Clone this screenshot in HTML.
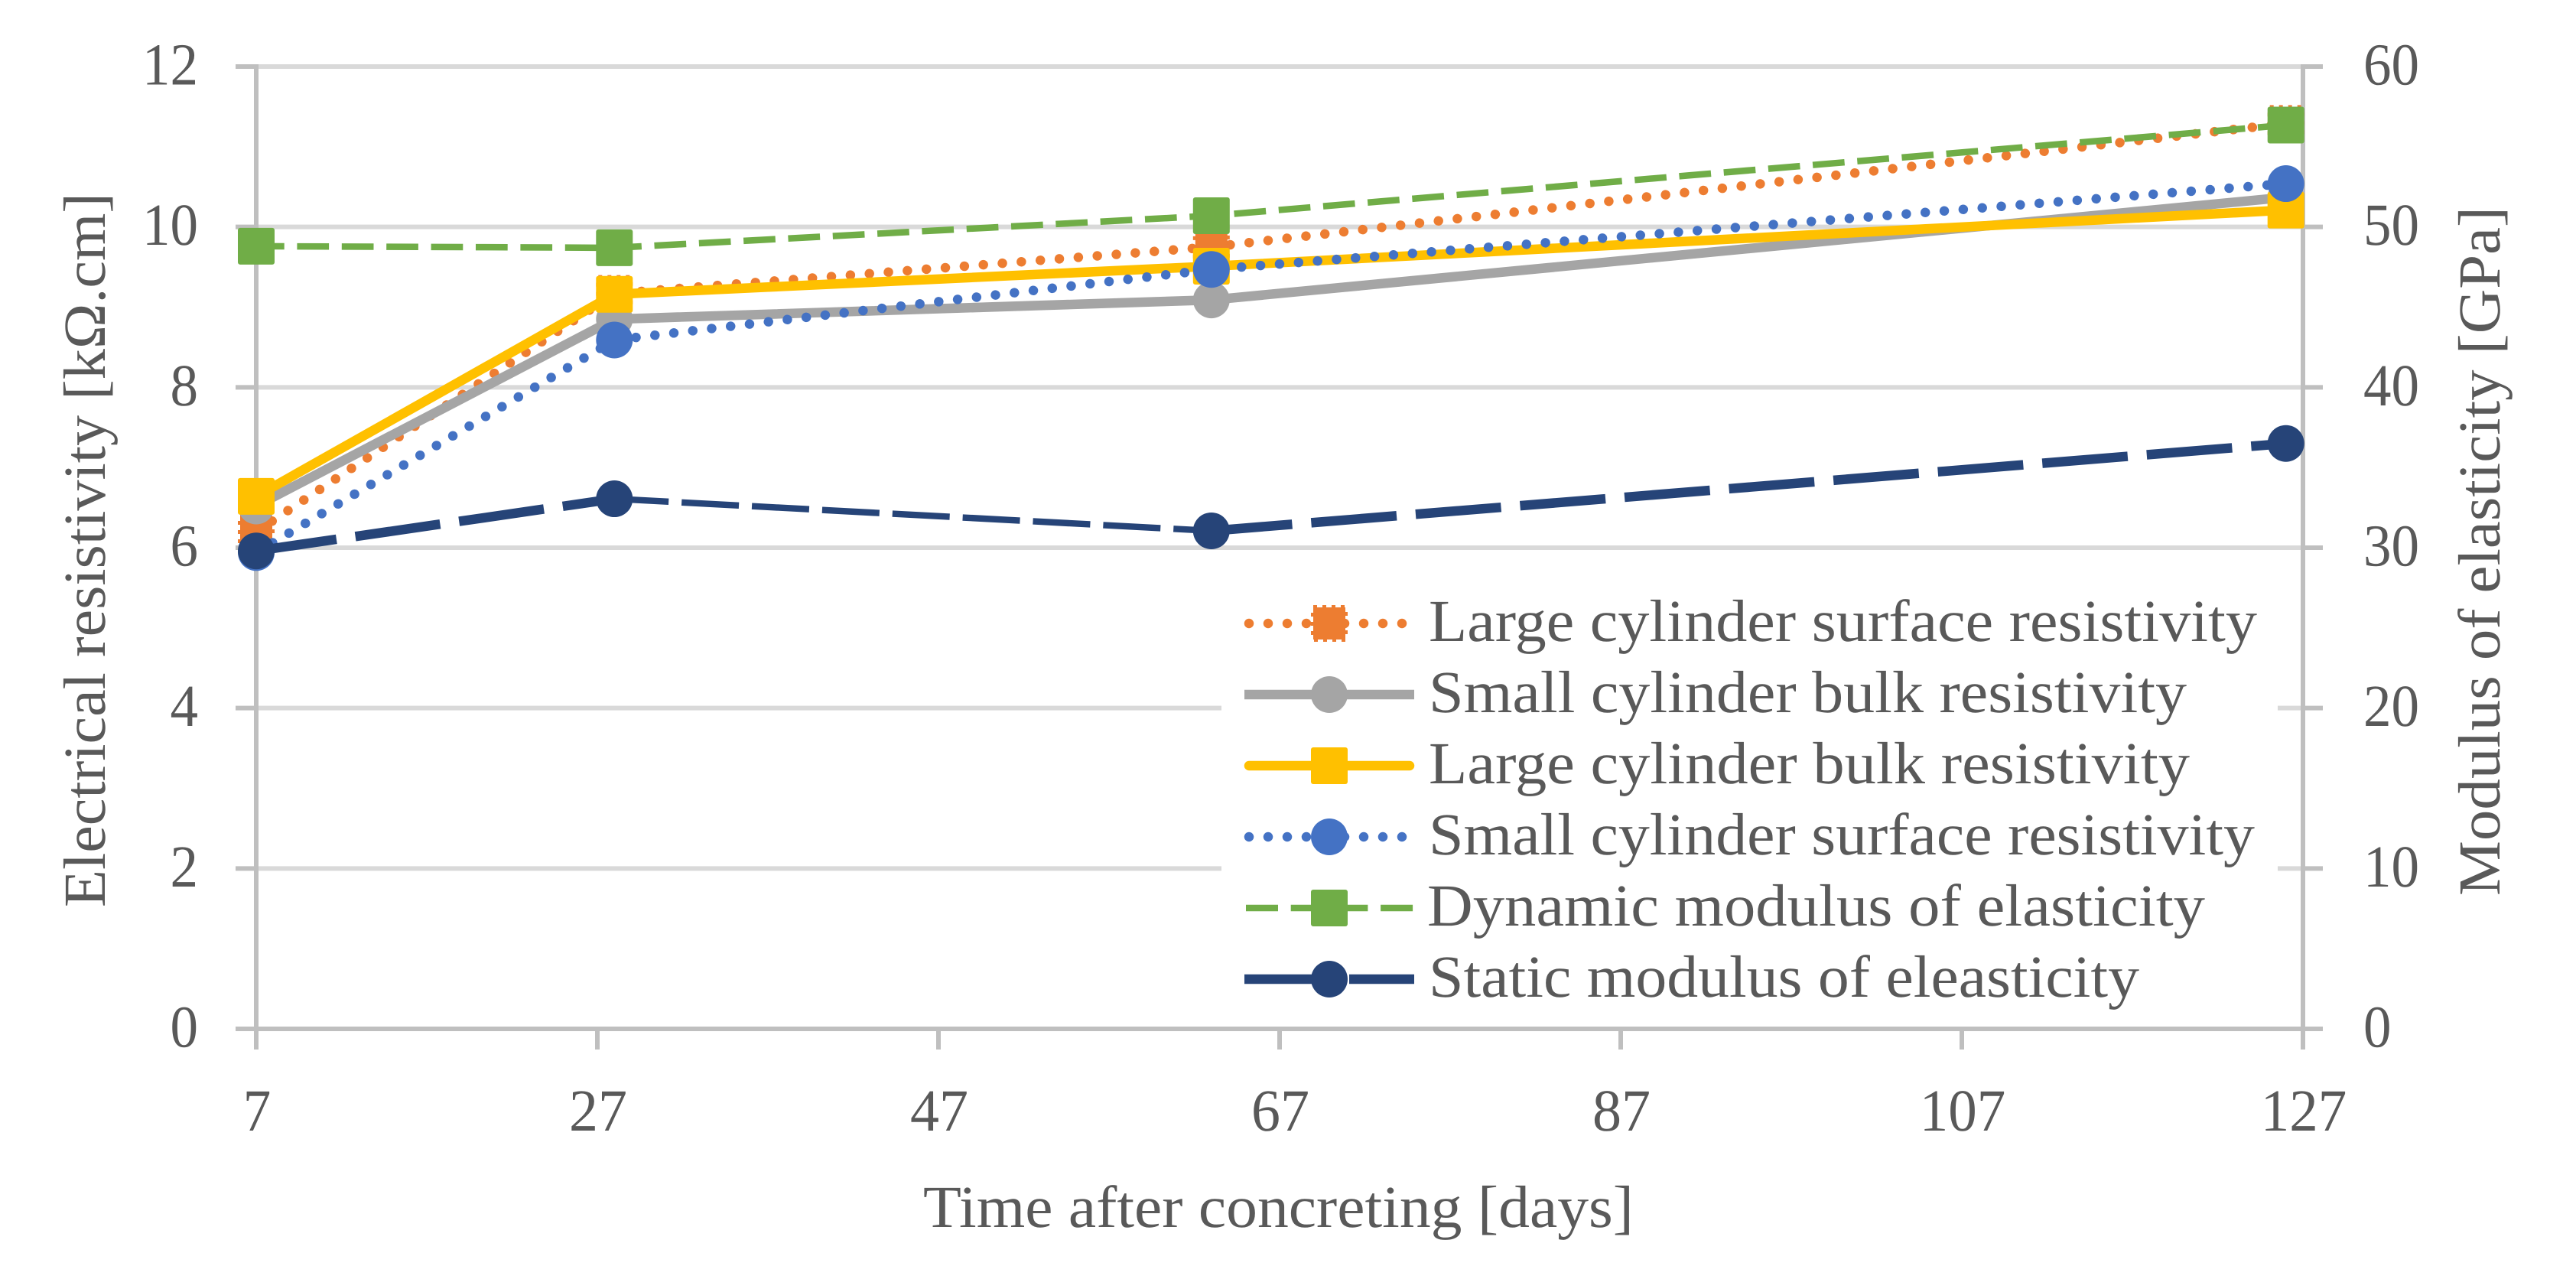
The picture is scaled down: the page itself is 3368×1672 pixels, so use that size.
<!DOCTYPE html>
<html lang="en">
<head>
<meta charset="utf-8">
<title>Electrical resistivity and modulus of elasticity over time</title>
<style>
html,body{margin:0;padding:0;background:#fff;width:3368px;height:1672px;overflow:hidden}
svg{display:block}
text{font-family:"Liberation Serif",serif;fill:#595959;text-rendering:geometricPrecision}
</style>
</head>
<body>
<svg id="chart" xmlns="http://www.w3.org/2000/svg" width="3368" height="1672" viewBox="0 0 3368 1672">
  <rect x="0" y="0" width="3368" height="1672" fill="#fff"/>
  <g id="grid"></g>
  <g id="axes"></g>
  <g id="tick-labels"></g>
  <g id="series"></g>

  <text x="1207" y="1604" font-size="78" textLength="929" lengthAdjust="spacingAndGlyphs">Time after concreting [days]</text>
  <text transform="translate(137 1186) rotate(-90)" font-size="78" textLength="934" lengthAdjust="spacingAndGlyphs">Electrical resistivity [kΩ.cm]</text>
  <text transform="translate(3268 1171) rotate(-90)" font-size="78" textLength="901" lengthAdjust="spacingAndGlyphs">Modulus of elasticity [GPa]</text>

  <g>
    <rect x="1597" y="750" width="1381" height="585" fill="#fff"/>

    <g>
      <path d="M1633 815H1843" fill="none" stroke="#ED7D31" stroke-width="12.5" stroke-linecap="round" stroke-dasharray="0.01 24.99"/>
      <rect x="1717" y="794" width="42" height="42" fill="#ED7D31" stroke="#ED7D31" stroke-width="6" stroke-dasharray="5 7"/>
      <text x="1868" y="838" font-size="78" textLength="1083" lengthAdjust="spacingAndGlyphs">Large cylinder surface resistivity</text>
    </g>
    <g>
      <path d="M1627 908H1849" fill="none" stroke="#A5A5A5" stroke-width="12.5"/>
      <circle cx="1738" cy="908" r="24" fill="#A5A5A5"/>
      <text x="1868" y="931" font-size="78" textLength="991" lengthAdjust="spacingAndGlyphs">Small cylinder bulk resistivity</text>
    </g>
    <g>
      <path d="M1633 1001H1843" fill="none" stroke="#FFC000" stroke-width="12.5" stroke-linecap="round"/>
      <rect x="1714" y="977" width="48" height="48" rx="3" fill="#FFC000"/>
      <text x="1868" y="1024" font-size="78" textLength="995" lengthAdjust="spacingAndGlyphs">Large cylinder bulk resistivity</text>
    </g>
    <g>
      <path d="M1633 1094H1843" fill="none" stroke="#4472C4" stroke-width="12.5" stroke-linecap="round" stroke-dasharray="0.01 24.99"/>
      <circle cx="1738" cy="1094" r="24" fill="#4472C4"/>
      <text x="1868" y="1117" font-size="78" textLength="1080" lengthAdjust="spacingAndGlyphs">Small cylinder surface resistivity</text>
    </g>
    <g>
      <path d="M1629 1187H1849" fill="none" stroke="#70AD47" stroke-width="8.5" stroke-dasharray="42 16.7"/>
      <rect x="1714" y="1163" width="48" height="48" rx="3" fill="#70AD47"/>
      <text x="1866" y="1210" font-size="78" textLength="1017" lengthAdjust="spacingAndGlyphs">Dynamic modulus of elasticity</text>
    </g>
    <g>
      <path d="M1627 1280H1849" fill="none" stroke="#264478" stroke-width="12.5" stroke-dasharray="112 25"/>
      <circle cx="1738" cy="1280" r="24" fill="#264478"/>
      <text x="1868" y="1303" font-size="78" textLength="929" lengthAdjust="spacingAndGlyphs">Static modulus of eleasticity</text>
    </g>
  </g>
</svg>

<script>
// Data
const days = [7, 28, 63, 126];
const largeSurface = [6.2, 9.17, 9.75, 11.29];
const smallBulk = [6.52, 8.85, 9.09, 10.37];
const largeBulk = [6.64, 9.16, 9.51, 10.21];
const smallSurface = [5.94, 8.59, 9.47, 10.54];
const dynamicModulus = [48.8, 48.7, 50.7, 56.35];
const staticModulus = [29.8, 33.05, 31.05, 36.5];
const xTicks = [7, 27, 47, 67, 87, 107, 127];
const leftTicks = [0, 2, 4, 6, 8, 10, 12];
const rightTicks = [0, 10, 20, 30, 40, 50, 60];

// Axis functions
const plotLeft = 335, plotRight = 3011, plotTop = 87, plotBottom = 1345;
const xMin = 7, xMax = 127, leftMax = 12, rightMax = 60;
function xScale(d) { return plotLeft + (d - xMin) * (plotRight - plotLeft) / (xMax - xMin); }
function yLeft(v) { return plotBottom - v * (plotBottom - plotTop) / leftMax; }
function yRight(v) { return plotBottom - v * (plotBottom - plotTop) / rightMax; }

const NS = 'http://www.w3.org/2000/svg';
function make(tag, parent, attrs) {
  const el = document.createElementNS(NS, tag);
  for (const k in attrs) el.setAttribute(k, attrs[k]);
  parent.appendChild(el);
  return el;
}
const gridG = document.getElementById('grid');
const axesG = document.getElementById('axes');
const labelG = document.getElementById('tick-labels');
const seriesG = document.getElementById('series');
const DIGIT = 36.5, FS = 78;

// Gridlines and y ticks
leftTicks.forEach(function (t, i) {
  const y = yLeft(t);
  if (t !== 0) {
    const g = make('line', gridG, {x1: plotLeft, x2: plotRight, y1: y, y2: y, stroke: '#D9D9D9', 'stroke-width': 6});
    
    
  }
  const tl = make('line', axesG, {x1: 308, x2: plotLeft, y1: y, y2: y, stroke: '#BFBFBF', 'stroke-width': 6});
  
  
  const tr = make('line', axesG, {x1: plotRight, x2: 3037, y1: y, y2: y, stroke: '#BFBFBF', 'stroke-width': 6});
  
  

  const s = String(t), len = s.length * DIGIT;
  const lab = make('text', labelG, {x: 259 - len, y: y + 23.5, 'font-size': FS, textLength: len, lengthAdjust: 'spacingAndGlyphs'});
  
  
  lab.textContent = s;
});
rightTicks.forEach(function (t) {
  const y = yRight(t);
  const s = String(t), len = s.length * DIGIT;
  const lab = make('text', labelG, {x: 3090, y: y + 23.5, 'font-size': FS, textLength: len, lengthAdjust: 'spacingAndGlyphs'});
  
  
  lab.textContent = s;
});

// Axis lines
const axL = make('line', axesG, {x1: plotLeft, x2: plotLeft, y1: plotTop - 3, y2: plotBottom, stroke: '#BFBFBF', 'stroke-width': 6});


const axR = make('line', axesG, {x1: plotRight, x2: plotRight, y1: plotTop - 3, y2: plotBottom, stroke: '#BFBFBF', 'stroke-width': 6});


const axB = make('line', axesG, {x1: 308, x2: 3037, y1: plotBottom, y2: plotBottom, stroke: '#BFBFBF', 'stroke-width': 6});



// X ticks
xTicks.forEach(function (t) {
  const x = xScale(t);
  const tk = make('line', axesG, {x1: x, x2: x, y1: plotBottom, y2: 1372, stroke: '#BFBFBF', 'stroke-width': 6});
  
  
  const s = String(t), len = s.length * DIGIT + (s.length > 1 ? 3 : 0);
  const lab = make('text', labelG, {x: x - len / 2 + 1, y: 1478, 'font-size': FS, textLength: len, lengthAdjust: 'spacingAndGlyphs'});
  
  
  lab.textContent = s;
});

function pts(values, yFn) {
  return values.map(function (v, i) { return [xScale(days[i]), yFn(v)]; });
}
function pathOf(points) {
  return points.map(function (p, i) { return (i ? 'L' : 'M') + p[0].toFixed(2) + ' ' + p[1].toFixed(2); }).join('');
}
function squareMarker(parent, p, color) {
  const r = make('rect', parent, {x: p[0] - 24, y: p[1] - 24, width: 48, height: 48, rx: 3, fill: color});
  
  
}
function dottedMarker(parent, p, color) {
  const r = make('rect', parent, {x: p[0] - 21, y: p[1] - 21, width: 42, height: 42, fill: color, stroke: color, 'stroke-width': 6, 'stroke-dasharray': '5 7'});
  
  
}
function circleMarker(parent, p, color) {
  const c = make('circle', parent, {cx: p[0], cy: p[1], r: 24, fill: color});
  
  
}
function seriesLine(parent, points, attrs) {
  const base = {d: pathOf(points), fill: 'none', 'stroke-linejoin': 'round'};
  for (const k in attrs) base[k] = attrs[k];
  const l = make('path', parent, base);
  
  
}

// Series 1: large cylinder surface (dotted, orange)
const g1 = make('g', seriesG, {});


const p1 = pts(largeSurface, yLeft);
seriesLine(g1, p1, {stroke: '#ED7D31', 'stroke-width': 12.5, 'stroke-linecap': 'round', 'stroke-dasharray': '0.01 24.9'});
p1.forEach(function (p) { dottedMarker(g1, p, '#ED7D31'); });

// Series 2: small cylinder bulk (solid, grey)
const g2 = make('g', seriesG, {});


const p2 = pts(smallBulk, yLeft);
seriesLine(g2, p2, {stroke: '#A5A5A5', 'stroke-width': 12.5});
p2.forEach(function (p) { circleMarker(g2, p, '#A5A5A5'); });

// Series 3: large cylinder bulk (solid, yellow)
const g3 = make('g', seriesG, {});


const p3 = pts(largeBulk, yLeft);
seriesLine(g3, p3, {stroke: '#FFC000', 'stroke-width': 12.5});
p3.forEach(function (p) { squareMarker(g3, p, '#FFC000'); });

// Series 4: small cylinder surface (dotted, blue)
const g4 = make('g', seriesG, {});


const p4 = pts(smallSurface, yLeft);
seriesLine(g4, p4, {stroke: '#4472C4', 'stroke-width': 12.5, 'stroke-linecap': 'round', 'stroke-dasharray': '0.01 24.9'});
p4.forEach(function (p) { circleMarker(g4, p, '#4472C4'); });

// Series 5: dynamic modulus (dashed, green, right axis)
const g5 = make('g', seriesG, {});


const p5 = pts(dynamicModulus, yRight);
seriesLine(g5, p5, {stroke: '#70AD47', 'stroke-width': 8.5, 'stroke-dasharray': '41.7 16.7', 'stroke-dashoffset': 5});
p5.forEach(function (p) { squareMarker(g5, p, '#70AD47'); });

// Series 6: static modulus (long dash, navy, right axis); the middle segment is thinner
const g6 = make('g', seriesG, {});


const p6 = pts(staticModulus, yRight);
for (let i = 0; i < p6.length - 1; i++) {
  const thin = i === 1;
  seriesLine(g6, [p6[i], p6[i + 1]], {
    stroke: '#264478',
    'stroke-width': thin ? 8.4 : 12.5,
    'stroke-dasharray': thin ? '75 17' : '112 25',
    'stroke-dashoffset': thin ? 4 : 6
  });
}
p6.forEach(function (p) { circleMarker(g6, p, '#264478'); });
</script>
</body>
</html>
